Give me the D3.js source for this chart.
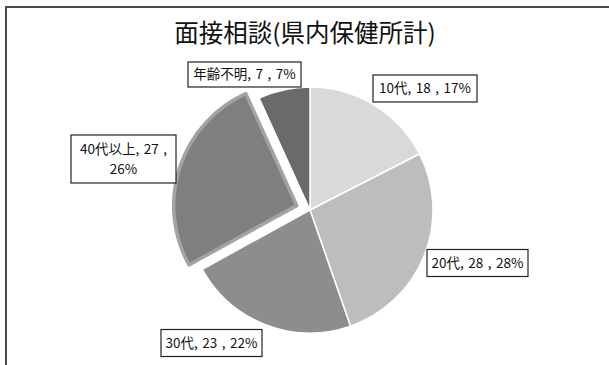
<!DOCTYPE html>
<html>
<head>
<meta charset="utf-8">
<script src="https://cdn.jsdelivr.net/npm/d3@7/dist/d3.min.js"></script>
<style>
  html, body { margin: 0; padding: 0; background: #fff; }
  svg { display: block; }
  text { font-family: "Noto Sans CJK JP", "Noto Sans", sans-serif; fill: #111; }
</style>
</head>
<body>
<svg id="chart" width="609" height="365"></svg>
<script>
// Consultation counts by age group (all prefectural health centres)
const title = "面接相談(県内保健所計)";
const categories = ["10代", "20代", "30代", "40代以上", "年齢不明"];
const counts = [18, 28, 23, 27, 7];
const percents = ["17%", "28%", "22%", "26%", "7%"];
const fills = ["#d9d9db", "#bdbdc0", "#8d8d8f", "#7f7f82", "#6a6a6c"];
const exploded = [false, false, false, true, false];

// label box layout: centre x/y, width, height
const labelBoxes = [
  { cx: 425, cy: 88.5, w: 104, h: 27 },
  { cx: 477.5, cy: 263, w: 101, h: 27 },
  { cx: 211.5, cy: 343, w: 101, h: 27 },
  { cx: 123.5, cy: 159, w: 105, h: 48, wrap: true },
  { cx: 244.5, cy: 74.5, w: 113, h: 25 }
];

const svg = d3.select("#chart");

// frame edges
svg.append("path")
  .attr("d", "M6,365 V7 H612")
  .attr("fill", "none")
  .attr("stroke", "#4a4a4a")
  .attr("stroke-width", 2);

svg.append("text")
  .attr("x", 305).attr("y", 42)
  .attr("text-anchor", "middle")
  .attr("font-size", 24.5)
  .text(title);

const cx = 310, cy = 210, radius = 123, explode = 14;

const pie = d3.pie().sort(null).value(d => d.value);
const data = categories.map((c, i) => ({ name: c, value: counts[i], i }));
const arcs = pie(data);
const arc = d3.arc().innerRadius(0).outerRadius(radius);

const g = svg.append("g").attr("transform", `translate(${cx},${cy})`);

g.selectAll("path.slice")
  .data(arcs)
  .join("path")
  .attr("class", "slice")
  .attr("d", arc)
  .attr("transform", d => {
    if (!exploded[d.data.i]) return null;
    const a = (d.startAngle + d.endAngle) / 2;
    return `translate(${Math.sin(a) * explode},${-Math.cos(a) * explode})`;
  })
  .attr("fill", d => fills[d.data.i])
  .attr("stroke", d => exploded[d.data.i] ? "#a3a3a5" : "#ffffff")
  .attr("stroke-width", d => exploded[d.data.i] ? 3.5 : 1.5)
  .attr("stroke-linejoin", "round");

// data labels
const lg = svg.append("g");
arcs.forEach(d => {
  const i = d.data.i;
  const b = labelBoxes[i];
  lg.append("rect")
    .attr("x", b.cx - b.w / 2).attr("y", b.cy - b.h / 2)
    .attr("width", b.w).attr("height", b.h)
    .attr("fill", "#fff")
    .attr("stroke", "#222")
    .attr("stroke-width", 1.2);
  const full = `${categories[i]}, ${counts[i]} , ${percents[i]}`;
  const lines = b.wrap ? [`${categories[i]}, ${counts[i]} ,`, percents[i]] : [full];
  const lh = 20;
  lines.forEach((t, k) => {
    lg.append("text")
      .attr("x", b.cx)
      .attr("y", b.cy + 4.5 + (k - (lines.length - 1) / 2) * lh)
      .attr("text-anchor", "middle")
      .attr("font-size", 13.5)
      .attr("word-spacing", 1.5)
      .text(t);
  });
});
</script>
</body>
</html>
